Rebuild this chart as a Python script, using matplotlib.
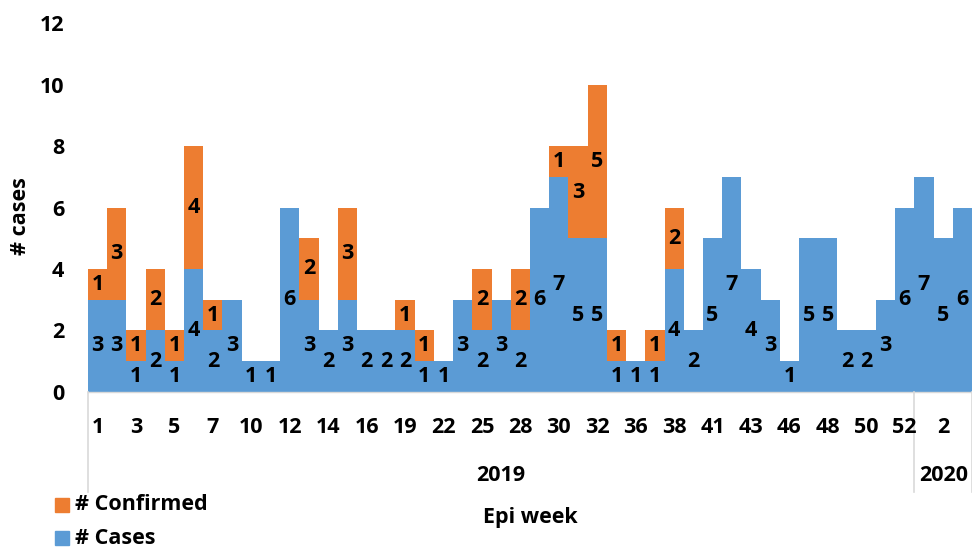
import numpy as np
import matplotlib.pyplot as plt
from matplotlib.patches import Rectangle
from matplotlib.lines import Line2D

plt.rcParams["font.family"] = ["Open Sans", "DejaVu Sans"]
plt.rcParams["font.weight"] = "bold"

# epi weeks (2019 then 2020), only every other one is labelled on the axis
weeks_2019 = [1, 2, 3, 4, 5, 6, 7, 8, 10, 11, 12, 13, 14, 15, 16, 17, 19, 20, 22, 23,
              25, 26, 28, 29, 30, 31, 32, 33, 36, 37, 38, 39, 41, 42, 43, 44, 46, 47,
              48, 49, 50, 51, 52]
weeks_2020 = [1, 2, 3]

cases = [3, 3, 1, 2, 1, 4, 2, 3, 1, 1, 6, 3, 2, 3, 2, 2, 2, 1, 1, 3,
         2, 3, 2, 6, 7, 5, 5, 1, 1, 1, 4, 2, 5, 7, 4, 3, 1, 5, 5, 2,
         2, 3, 6, 7, 5, 6]
confirmed = [1, 3, 1, 2, 1, 4, 1, 0, 0, 0, 0, 2, 0, 3, 0, 0, 1, 1, 0, 0,
             2, 0, 2, 0, 1, 3, 5, 1, 0, 1, 2, 0, 0, 0, 0, 0, 0, 0, 0, 0,
             0, 0, 0, 0, 0, 0]

blue = "#5B9BD5"
orange = "#ED7D31"
fs = 15.5

weeks = weeks_2019 + weeks_2020
x = np.arange(len(weeks))
cases = np.array(cases)
confirmed = np.array(confirmed)
has_conf = confirmed > 0

fig = plt.figure(figsize=(9.72, 5.48), dpi=100)
ax = fig.add_axes([0.0905, 0.2847, 0.9095, 0.6733])

ax.bar(x, cases, width=1.0, color=blue, linewidth=0)
ax.bar(x[has_conf], confirmed[has_conf], bottom=cases[has_conf], width=1.0,
       color=orange, linewidth=0)

for i in x:
    ax.text(i, cases[i] / 2, str(cases[i]), ha="center", va="center",
            fontsize=fs, fontweight="bold")
    if confirmed[i] > 0:
        ax.text(i, cases[i] + confirmed[i] / 2, str(confirmed[i]), ha="center",
                va="center", fontsize=fs, fontweight="bold")

ax.set_xlim(-0.5, len(weeks) - 0.5)
ax.set_ylim(0, 12)
ax.set_yticks(range(0, 13, 2))
ax.tick_params(axis="y", length=0, labelsize=fs, pad=17)
ax.set_xticks([])
for lbl in ax.get_yticklabels():
    lbl.set_fontweight("bold")

for side in ["top", "right", "left"]:
    ax.spines[side].set_visible(False)
ax.spines["bottom"].set_color("#d9d9d9")
ax.spines["bottom"].set_linewidth(1.0)

# category labels, every other bar
trans = ax.get_xaxis_transform()
for i in range(0, len(weeks), 2):
    ax.text(i, -0.095, str(weeks[i]), transform=trans, ha="center", va="center",
            fontsize=fs, fontweight="bold")

# year group labels and dividers
n19 = len(weeks_2019)
for xpos in [-0.5, n19 - 0.5, len(weeks) - 0.5]:
    ax.add_line(Line2D([xpos, xpos], [0, -0.27], transform=trans, color="#d9d9d9",
                       linewidth=1.2, clip_on=False))
ax.text((n19 - 1) / 2, -0.225, "2019", transform=trans, ha="center", va="center",
        fontsize=fs, fontweight="bold")
ax.text(n19 + (len(weeks_2020) - 1) / 2, -0.225, "2020", transform=trans,
        ha="center", va="center", fontsize=fs, fontweight="bold")

fig.text(530 / 972, 1 - 517 / 548, "Epi week", ha="center", va="center",
         fontsize=fs, fontweight="bold")
fig.text(20 / 972, 1 - 216 / 548, "# cases", ha="center", va="center",
         rotation=90, fontsize=fs, fontweight="bold")

# legend
for label, col, yc in [("# Confirmed", orange, 505), ("# Cases", blue, 538)]:
    fig.patches.append(Rectangle((55 / 972, 1 - (yc + 7) / 548), 14 / 972, 14 / 548,
                                 transform=fig.transFigure, color=col))
    fig.text(75 / 972, 1 - yc / 548, label, ha="left", va="center",
             fontsize=fs, fontweight="bold")

fig.savefig("out.png", dpi=100)
